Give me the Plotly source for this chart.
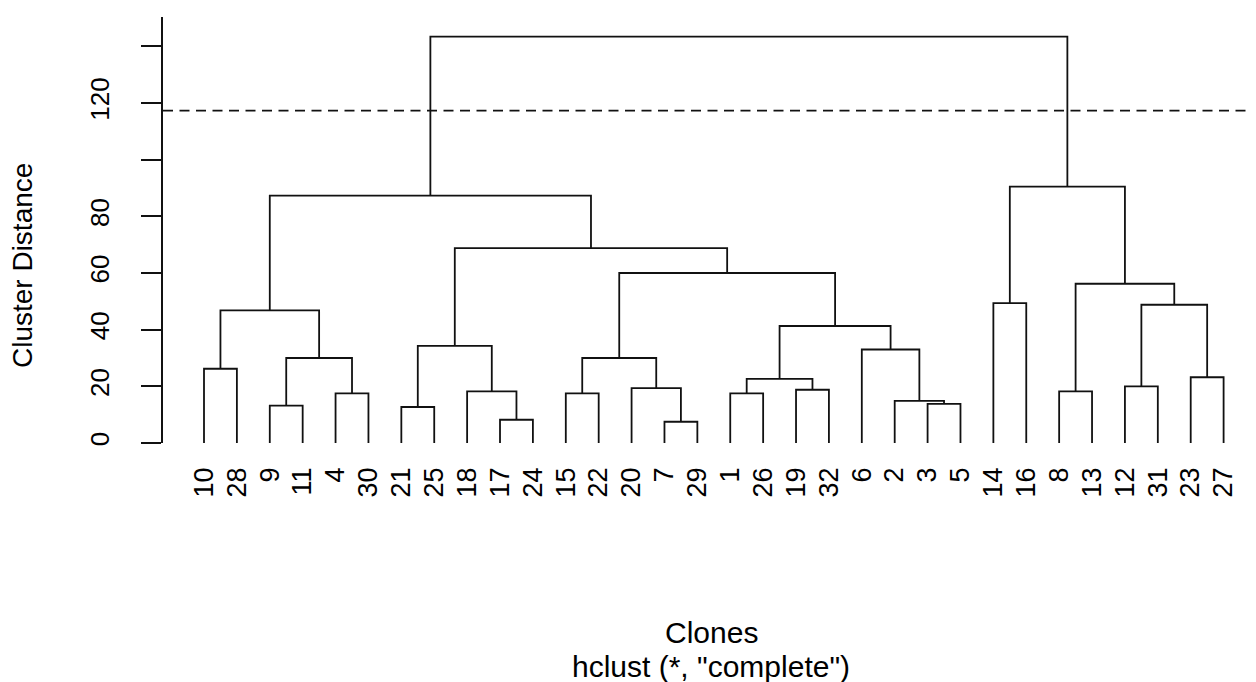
import plotly.graph_objects as go

# ---- data ----
leaf_labels = ["10", "28", "9", "11", "4", "30", "21", "25", "18", "17", "24",
               "15", "22", "20", "7", "29", "1", "26", "19", "32", "6", "2",
               "3", "5", "14", "16", "8", "13", "12", "31", "23", "27"]
# hclust-style merge table: negative = leaf (clone id), positive = earlier merge step
merge_left = [-7, -17, -21, -9, -3, -2, -4, -15, -1, -18, -8, -19, -20, -12, 9,
              -23, -10, 4, 8, -6, 3, 15, 17, 14, -14, 11, 19, 21, 23, 25, 29]
merge_right = [-29, -24, -25, -11, -5, 5, -30, -22, -26, 2, -13, -32, 1, -31, 12,
               -27, -28, 7, 13, 6, 10, 20, 18, 16, -16, 24, 22, 27, 28, 26, 30]
merge_height = [7.5, 8.2, 12.7, 13.2, 13.8, 14.9, 17.5, 17.5, 17.5, 18.2, 18.2,
                18.8, 19.4, 20.0, 22.6, 23.2, 26.2, 30.0, 30.0, 33.0, 34.3, 41.3,
                46.8, 48.8, 49.4, 56.2, 60.0, 68.8, 87.3, 90.5, 143.4]
cut_height = 117.3
y_tick_vals = [0, 20, 40, 60, 80, 100, 120, 140]
y_tick_text = ["0", "20", "40", "60", "80", "", "120", ""]

# ---- build dendrogram segments ----
leaf_pos = {int(lab): i + 1 for i, lab in enumerate(leaf_labels)}
node_x = {}
node_h = {}


def child_xy(c):
    if c < 0:
        return leaf_pos[-c], 0.0
    return node_x[c], node_h[c]


xs, ys = [], []
for k, (l, r, h) in enumerate(zip(merge_left, merge_right, merge_height), start=1):
    xl, hl = child_xy(l)
    xr, hr = child_xy(r)
    xs += [xl, xl, xr, xr, None]
    ys += [hl, h, h, hr, None]
    node_x[k] = (xl + xr) / 2
    node_h[k] = h

FONT = "Liberation Sans, Arial, sans-serif"
INK = "#111111"

fig = go.Figure()
fig.add_trace(go.Scatter(x=xs, y=ys, mode="lines",
                         line=dict(color=INK, width=1.8),
                         hoverinfo="skip", showlegend=False))

fig.add_shape(type="line", xref="paper", x0=0, x1=1, yref="y",
              y0=cut_height, y1=cut_height,
              line=dict(color=INK, width=1.8, dash="10px,6.5px"))

fig.update_layout(
    width=1248, height=674,
    margin=dict(l=155, r=0, t=9, b=239),
    paper_bgcolor="white", plot_bgcolor="white",
    font=dict(family=FONT, color="#000000"),
    xaxis=dict(range=[-0.2466, 32.985], tickmode="array",
               tickvals=list(range(1, len(leaf_labels) + 1)),
               ticktext=leaf_labels, tickangle=-90, ticks="",
               ticklabelstandoff=18, tickfont=dict(size=27, family=FONT),
               showline=False, showgrid=False, zeroline=False, fixedrange=True),
    yaxis=dict(range=[0, 150.35], tickmode="array", tickvals=y_tick_vals,
               ticktext=y_tick_text, tickangle=-90, ticks="outside",
               ticklen=20, tickwidth=1.8, tickcolor=INK,
               showline=True, linewidth=1.8, linecolor=INK,
               ticklabelstandoff=22, tickfont=dict(size=26, family=FONT),
               showgrid=False, zeroline=False, fixedrange=True),
    annotations=[
        dict(text="Cluster Distance", xref="paper", yref="paper",
             x=-0.1285, y=0.4167, textangle=-90, showarrow=False,
             xanchor="center", yanchor="middle", font=dict(size=28, family=FONT)),
        dict(text="Clones", xref="paper", yref="paper", x=0.5014, y=-0.446,
             showarrow=False, xanchor="center", yanchor="middle",
             font=dict(size=30, family=FONT)),
        dict(text='hclust (*, "complete")', xref="paper", yref="paper",
             x=0.5014, y=-0.5235, showarrow=False, xanchor="center",
             yanchor="middle", font=dict(size=30, family=FONT)),
    ],
)

fig.write_html("out.html")
